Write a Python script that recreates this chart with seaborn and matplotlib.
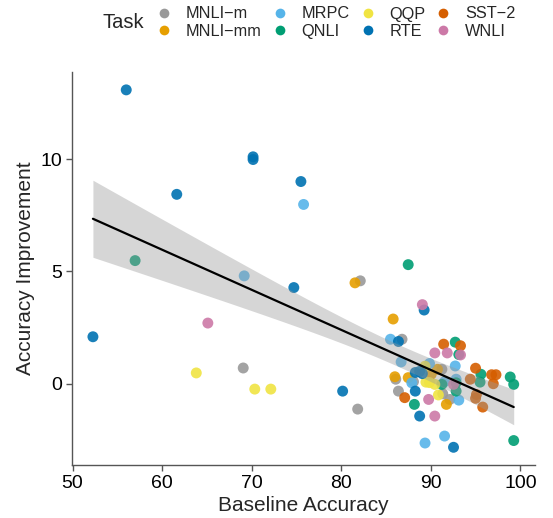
import numpy as np
import pandas as pd
import matplotlib
matplotlib.use("Agg")
import matplotlib.pyplot as plt
from matplotlib.lines import Line2D
import seaborn as sns

TASKS = ["MNLI\u2212m", "MNLI\u2212mm", "MRPC", "QNLI", "QQP", "RTE", "SST\u22122", "WNLI"]
COLORS = ["#999999", "#E69F00", "#56B4E9", "#009E73", "#F0E442", "#0072B2", "#D55E00", "#CC79A7"]

# baseline accuracy / improvement per task
mnli_m_x = [69.06, 81.84, 82.13, 86.79, 86.09, 86.39, 88.07, 91.24, 92.13, 91.34]
mnli_m_y = [0.70, -1.13, 4.58, 1.98, 0.20, -0.33, 0.09, 0.64, -0.70, -0.45]
mnli_mm_x = [81.54, 85.80, 85.99, 87.48, 90.05, 90.75, 91.74]
mnli_mm_y = [4.49, 2.88, 0.31, 0.27, 0.42, 0.64, -0.92]
mrpc_x = [69.17, 75.80, 85.50, 86.69, 89.86, 92.73, 89.36, 91.54, 93.13, 91.54, 92.83, 87.88]
mrpc_y = [4.80, 7.98, 1.98, 0.97, 0.90, 0.79, -2.64, -2.33, -0.73, 0.09, 0.20, 0.04]
qnli_x = [56.99, 87.48, 92.73, 93.13, 95.60, 95.50, 98.87, 99.26, 91.24, 92.83, 88.17, 99.26, 92.83]
qnli_y = [5.48, 5.30, 1.85, 1.30, 0.42, 0.07, 0.30, -0.03, -0.03, -0.33, -0.92, -2.53, 0.04]
qqp_x = [63.82, 70.35, 72.14, 89.36, 89.46, 89.86, 90.45, 90.85]
qqp_y = [0.48, -0.24, -0.24, 0.78, 0.07, 0.05, -0.03, -0.50]
rte_x = [52.28, 56.00, 61.64, 70.16, 70.16, 74.71, 75.50, 80.16, 89.26, 86.39, 88.27, 88.76,
         89.06, 88.27, 88.76, 92.54]
rte_y = [2.09, 13.08, 8.43, 10.10, 9.98, 4.28, 9.00, -0.33, 3.28, 1.88, 0.50, 0.55,
         0.45, -0.33, -1.44, -2.83]
sst2_x = [91.44, 93.32, 95.00, 94.41, 96.79, 97.28, 96.98, 95.10, 95.00, 95.80, 87.09]
sst2_y = [1.76, 1.69, 0.69, 0.20, 0.40, 0.40, 0.00, -0.48, -0.65, -1.04, -0.62]
wnli_x = [65.11, 89.06, 90.45, 91.84, 93.32, 89.76, 90.45, 92.54]
wnli_y = [2.70, 3.52, 1.37, 1.37, 1.28, -0.70, -1.44, -0.03]

xs = [mnli_m_x, mnli_mm_x, mrpc_x, qnli_x, qqp_x, rte_x, sst2_x, wnli_x]
ys = [mnli_m_y, mnli_mm_y, mrpc_y, qnli_y, qqp_y, rte_y, sst2_y, wnli_y]

df = pd.concat(
    [pd.DataFrame({"baseline": x, "improvement": y, "Task": t}) for t, x, y in zip(TASKS, xs, ys)],
    ignore_index=True,
)


def lm_band(x, y, grid, level_t=1.99):
    """OLS fit with a t-based 95% confidence band for the mean."""
    n = len(x)
    b1, b0 = np.polyfit(x, y, 1)
    resid = y - (b0 + b1 * x)
    s = np.sqrt(np.sum(resid ** 2) / (n - 2))
    se = s * np.sqrt(1 / n + (grid - x.mean()) ** 2 / np.sum((x - x.mean()) ** 2))
    fit = b0 + b1 * grid
    return fit - level_t * se, fit + level_t * se


sns.set_style("white")
plt.rcParams["font.family"] = ["Liberation Sans", "DejaVu Sans"]

fig = plt.figure(figsize=(5.53, 5.18), dpi=100)
ax = fig.add_axes([0.130, 0.102, 0.837, 0.759])

sns.scatterplot(data=df, x="baseline", y="improvement", hue="Task", hue_order=TASKS,
                palette=COLORS, s=62, linewidth=0, alpha=0.9, legend=False, ax=ax)

grid = np.linspace(df["baseline"].min(), df["baseline"].max(), 100)
lo, hi = lm_band(df["baseline"].to_numpy(), df["improvement"].to_numpy(), grid)
ax.fill_between(grid, lo, hi, color="#999999", alpha=0.4, linewidth=0, zorder=2)
sns.regplot(data=df, x="baseline", y="improvement", scatter=False, ci=None, color="black",
            line_kws={"linewidth": 1.6, "zorder": 3}, ax=ax)

xmin, xmax = df["baseline"].min(), df["baseline"].max()
ymin, ymax = df["improvement"].min(), df["improvement"].max()
ax.set_xlim(xmin - 0.05 * (xmax - xmin), xmax + 0.05 * (xmax - xmin))
ax.set_ylim(ymin - 0.05 * (ymax - ymin), ymax + 0.05 * (ymax - ymin))
ax.set_xticks([50, 60, 70, 80, 90, 100])
ax.set_yticks([0, 5, 10])

for side in ["top", "right"]:
    ax.spines[side].set_visible(False)
for side in ["left", "bottom"]:
    ax.spines[side].set_color("#555555")
    ax.spines[side].set_linewidth(1.0)
ax.tick_params(axis="both", which="major", length=4, width=1.0, color="#555555",
               labelsize=14, labelcolor="black", pad=3, left=True, bottom=True)

ax.set_xlabel("Baseline Accuracy", fontsize=15, labelpad=3)
ax.set_ylabel("Accuracy Improvement", fontsize=15, labelpad=4)

handles = [Line2D([], [], marker="o", linestyle="", markersize=7, markeredgewidth=0,
                  color=c) for c in COLORS]
fig.legend(handles, TASKS, ncol=4, loc="upper left", bbox_to_anchor=(0.267, 1.0),
           frameon=False, fontsize=11.7, handletextpad=0.75, columnspacing=0.5,
           labelspacing=0.15, handlelength=1.2, borderaxespad=0.0)
fig.text(0.186, 0.956, "Task", fontsize=14.5, va="center", ha="left")

fig.savefig("out.png", dpi=100)
